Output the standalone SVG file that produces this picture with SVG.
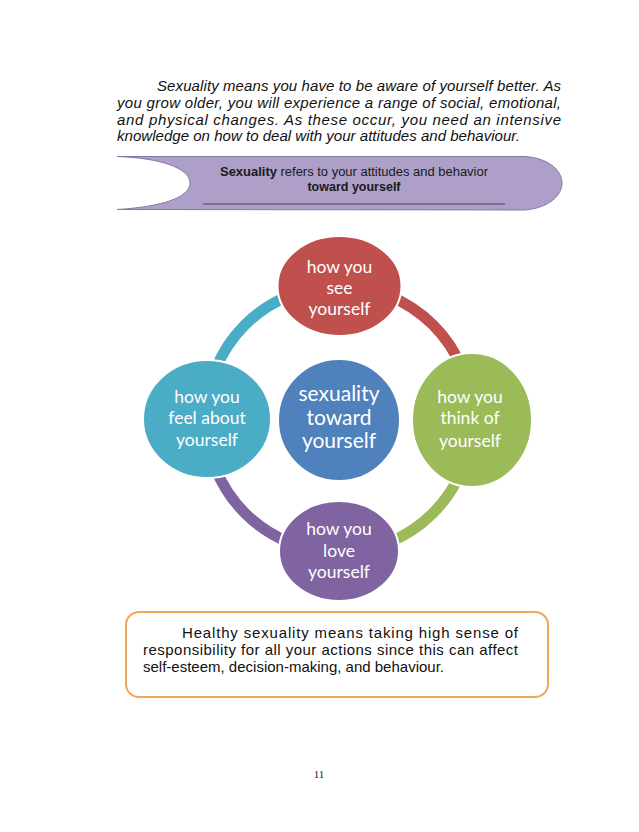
<svg xmlns="http://www.w3.org/2000/svg" width="639" height="832" viewBox="0 0 639 832">
<style>
.para{font-family:"Liberation Sans",Arial,sans-serif;font-size:15px;fill:#111}
.it{font-style:italic}
.hdr{font-family:"Liberation Sans",Arial,sans-serif;font-size:12.5px;fill:#1a1a1a}
.node{font-family:Lato,"Open Sans",sans-serif;fill:#fff;text-anchor:middle}
.sat{font-size:17.5px}
.ctr{font-size:21px}
.ring{fill:none;stroke-width:11}
.bub{stroke:#fff;stroke-width:2}
</style>
<rect width="639" height="832" fill="#fff"/>
<g id="intro" class="para it">
<text x="157" y="91" textLength="404" lengthAdjust="spacing">Sexuality means you have to be aware of yourself better.  As</text>
<text x="117" y="108" textLength="444" lengthAdjust="spacing">you grow older, you will experience a range of social, emotional,</text>
<text x="117" y="124.5" textLength="444" lengthAdjust="spacing">and physical changes. As these occur, you need an intensive</text>
<text x="117" y="141" textLength="403" lengthAdjust="spacingAndGlyphs">knowledge on how to deal with your attitudes and behaviour.</text>
</g>
<g id="banner">
<path d="M117,156.5 L525,156.5 C548,158 562,170 562,183 C562,196 548,208 525,210 L117,209.5 C160,207 190,198 190,183 C190,168 160,158 117,156.5 Z" fill="#ad9fc8" stroke="#8678a6" stroke-width="1"/>
<line x1="203" y1="204" x2="505" y2="204" stroke="#6c5f82" stroke-width="1.5"/>
<text class="hdr" x="354" y="176" text-anchor="middle" textLength="268" lengthAdjust="spacingAndGlyphs"><tspan font-weight="bold">Sexuality</tspan> refers to your attitudes and behavior</text>
<text class="hdr" x="354" y="191" text-anchor="middle" font-weight="bold">toward yourself</text>
</g>
<g id="connectors">
<path class="ring" stroke="#c0504d" d="M339,286 A133,133 0 0 1 472,419"/>
<path class="ring" stroke="#9bbb59" d="M472,419 A133,133 0 0 1 339,552"/>
<path class="ring" stroke="#8064a2" d="M339,552 A133,133 0 0 1 206,419"/>
<path class="ring" stroke="#4bacc6" d="M206,419 A133,133 0 0 1 339,286"/>
</g>
<g id="center">
<ellipse class="bub" cx="339" cy="420" rx="61" ry="61" fill="#4f81bd"/>
<text class="node ctr" x="339" y="401">sexuality</text>
<text class="node ctr" x="339" y="425">toward</text>
<text class="node ctr" x="339" y="448">yourself</text>
</g>
<g id="see">
<ellipse class="bub" cx="339.5" cy="286" rx="62" ry="50" fill="#c0504d"/>
<text class="node sat" x="339.5" y="273">how you</text>
<text class="node sat" x="339.5" y="294">see</text>
<text class="node sat" x="339.5" y="315">yourself</text>
</g>
<g id="think">
<ellipse class="bub" cx="472" cy="420" rx="60" ry="67" fill="#9bbb59"/>
<text class="node sat" x="470" y="403">how you</text>
<text class="node sat" x="470" y="424">think of</text>
<text class="node sat" x="470" y="447">yourself</text>
</g>
<g id="love">
<ellipse class="bub" cx="339" cy="551" rx="60" ry="50" fill="#8064a2"/>
<text class="node sat" x="339" y="535">how you</text>
<text class="node sat" x="339" y="557">love</text>
<text class="node sat" x="339" y="578">yourself</text>
</g>
<g id="feel">
<ellipse class="bub" cx="207" cy="419" rx="64" ry="59" fill="#4bacc6"/>
<text class="node sat" x="207" y="403">how you</text>
<text class="node sat" x="207" y="424">feel about</text>
<text class="node sat" x="207" y="446">yourself</text>
</g>
<g id="note">
<rect x="126" y="612" width="422" height="85" rx="13" fill="#fff" stroke="#f2a65a" stroke-width="2"/>
<text class="para" x="182" y="638" textLength="336" lengthAdjust="spacing">Healthy sexuality means taking high sense of</text>
<text class="para" x="143" y="655" textLength="375" lengthAdjust="spacing">responsibility for all your actions since this can affect</text>
<text class="para" x="143" y="672">self-esteem, decision-making, and behaviour.</text>
</g>
<text x="319" y="778" text-anchor="middle" font-family="Liberation Serif,serif" font-size="11" fill="#222">11</text>
</svg>
